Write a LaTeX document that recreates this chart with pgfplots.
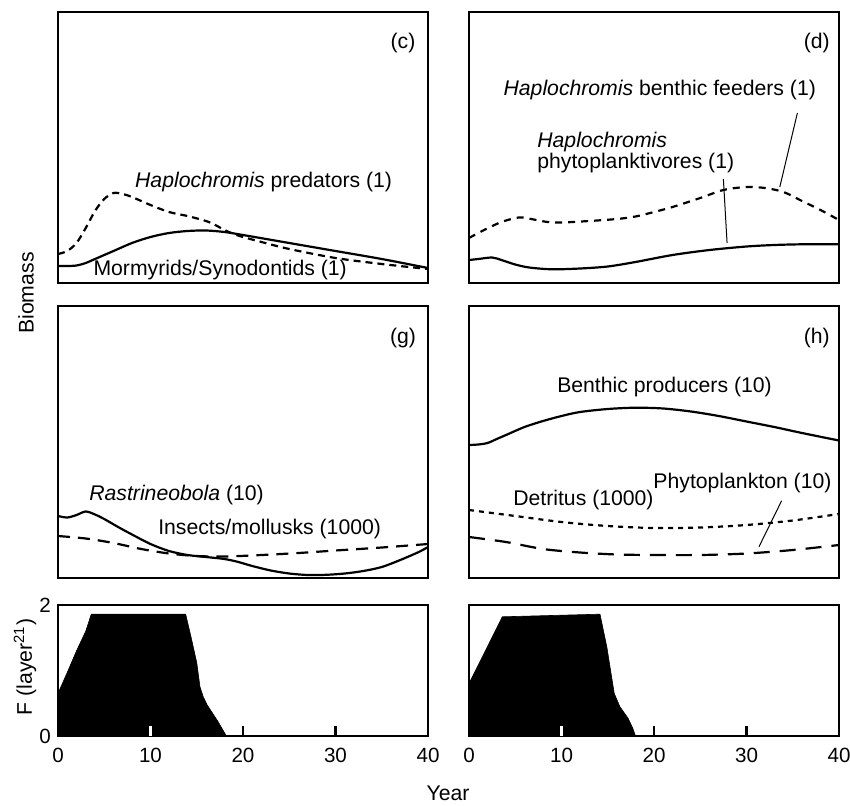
\documentclass[border=0pt]{standalone}
\usepackage{fontspec}
\setmainfont{Liberation Sans}
\usepackage{pgfplots}
\pgfplotsset{compat=1.18}
\tikzset{
  lab/.style={anchor=west, inner sep=0pt, font=\fontsize{10.6pt}{11pt}\selectfont},
  tl/.style={font=\fontsize{10.6pt}{11pt}\selectfont},
}
\pgfplotsset{
  panel/.style={scale only axis, width=185pt, xmin=0, xmax=40,
    axis line style={line width=1.2pt}, anchor=south west, clip=true},
  bio/.style={panel, ticks=none, ymin=0},
  fpanel/.style={panel, height=65.5pt, ymin=0, ymax=2, axis on top,
    xtick={0,20,30,40}, extra x ticks={10},
    extra x tick style={major tick style={white, line width=1.2pt}},
    xtick pos=bottom, ytick pos=left, tick align=inside,
    major tick length=5pt, tick style={line width=1.2pt, black},
    /pgf/number format/assume math mode=true,
    tick label style={font=\fontsize{10.3pt}{12pt}\selectfont},
    xticklabel style={yshift=-2.7pt}},
}
\begin{document}
\begin{tikzpicture}
\path[use as bounding box] (0,0) rectangle (425pt,402.5pt);

% (c)
\begin{axis}[bio, height=135.5pt, ymax=271, at={(29pt,261pt)}]
\addplot[black, line width=1.1pt, smooth, tension=0.5] coordinates {
(0,17)(1,17)(2,17.5)(3,20)(4,24)(6,32)(8,40)(10,46)(12,50)(14,52)(16,52.5)(18,51)(20,48)(25,40)(30,32)(35,24)(40,15)};
\addplot[black, line width=1.1pt, smooth, tension=0.5, dash pattern=on 3.5pt off 2.5pt] coordinates {
(0,29)(1,32)(2,40)(3,55)(4,72)(5,84)(6,90)(7,89)(8,86)(10,78)(12,71)(14,67)(16,62)(17,58)(18,53)(19,49)(20,46)(22,41)(25,34)(30,25)(35,19)(40,14)};
\node[tl] at (axis cs:37.3,240) {(c)};
\node[lab] at (axis cs:8.3,101) {\textit{Haplochromis} predators (1)};
\node[lab] at (axis cs:3.8,13) {Mormyrids/Synodontids (1)};
\end{axis}

% (d)
\begin{axis}[bio, height=135.5pt, ymax=271, at={(234.5pt,261pt)}]
\addplot[black, line width=1.1pt, smooth, tension=0.5] coordinates {
(0,23)(1,24)(2.5,25.5)(3.5,23)(5,18.5)(6.5,15.5)(9,13.7)(12,14.5)(15,16.5)(18,21)(22,28)(26,33)(30,36.5)(33,38)(36,38.7)(40,38.7)};
\addplot[black, line width=1.1pt, smooth, tension=0.5, dash pattern=on 3.5pt off 3pt] coordinates {
(0,45)(1,50)(2.3,56)(3.5,61)(5,65)(5.8,65.5)(7,63.5)(8.5,61)(10,60.5)(13,62)(16,64)(18,66.5)(20,71)(22,76)(25,85)(27.5,93)(30,96)(32,95)(34,91)(36,82)(38,73)(40,63)};
\node[tl] at (axis cs:37.6,240) {(d)};
\node[lab] at (axis cs:3.7,193) {\textit{Haplochromis} benthic feeders (1)};
\node[lab] at (axis cs:7.35,141) {\textit{Haplochromis}};
\node[lab] at (axis cs:7.35,120) {phytoplanktivores (1)};
\draw[line width=0.5pt] (axis cs:35.5,170) -- (axis cs:33.6,96);
\draw[line width=0.5pt] (axis cs:27.5,104) -- (axis cs:27.9,40);
\end{axis}

% (g)
\begin{axis}[bio, height=136pt, ymax=272, at={(29pt,113.5pt)}]
\addplot[black, line width=1.1pt, smooth, tension=0.5] coordinates {
(0,62)(1,60.5)(2,63)(3,66.5)(4,63.5)(5,59)(6.5,51)(8,43.5)(10,34)(12,27)(14,23)(16,21)(18,19)(19.5,16)(21,12)(23,7.5)(25,4.5)(27,3)(29,3.2)(31,4.5)(33,7)(35,11)(37,18)(39,26)(40,31)};
\addplot[black, line width=1.1pt, smooth, tension=0.5, dash pattern=on 6pt off 4pt] coordinates {
(0,42)(3,39.5)(6,35)(9,29)(12,24.5)(15,22)(18,21.5)(22,23)(26,25)(30,27.5)(35,30.5)(40,34)};
\node[tl] at (axis cs:37.3,240) {(g)};
\node[lab] at (axis cs:3.35,83) {\textit{Rastrineobola} (10)};
\node[lab] at (axis cs:10.8,49) {Insects/mollusks (1000)};
\end{axis}

% (h)
\begin{axis}[bio, height=136pt, ymax=272, at={(234.5pt,113.5pt)}]
\addplot[black, line width=1.1pt, smooth, tension=0.5] coordinates {
(0,133)(1,133.5)(2,135)(3,139)(4,143)(6,151)(8,157)(10,162)(12,166)(15,169)(18,170.3)(21,169.5)(24,166.5)(27,162)(30,156.5)(33,151)(36,145)(40,137.5)};
\addplot[black, line width=1.1pt, smooth, tension=0.5, dash pattern=on 2.5pt off 2.5pt] coordinates {
(0,68)(5,62)(10,56)(15,52)(20,50)(25,50.5)(30,53)(35,57.5)(40,64)};
\addplot[black, line width=1.1pt, smooth, tension=0.5, dash pattern=on 8pt off 5pt] coordinates {
(0,41)(4,36)(8,29)(12,25.5)(16,23.5)(20,23)(25,23)(30,24.5)(35,28)(40,33)};
\node[tl] at (axis cs:37.6,240) {(h)};
\node[lab] at (axis cs:9.5,191) {Benthic producers (10)};
\node[lab] at (axis cs:4.75,78) {Detritus (1000)};
\node[lab] at (axis cs:19.9,95) {Phytoplankton (10)};
\draw[line width=0.5pt] (axis cs:33.8,77.3) -- (axis cs:31.35,31.3);
\end{axis}

% F left
\begin{axis}[fpanel, at={(29pt,34.5pt)}, ytick={0,2}]
\addplot[fill=black, draw=black, line width=0.3pt] coordinates {
(0,0)(0,0.65)(1,0.97)(2,1.3)(3,1.6)(3.6,1.86)(13.8,1.86)(14.4,1.5)(15,1.12)(15.35,0.75)(15.7,0.6)(16.1,0.48)(16.7,0.35)(17.3,0.22)(18.2,0)} --cycle;
\end{axis}

% F right
\begin{axis}[fpanel, at={(234.5pt,34.5pt)}, ytick={0,2}, yticklabels={}]
\addplot[fill=black, draw=black, line width=0.3pt] coordinates {
(0,0)(0,0.8)(3.6,1.82)(14.16,1.86)(14.9,1.36)(15.7,0.65)(16.3,0.45)(17.2,0.27)(17.7,0.12)(18,0)} --cycle;
\end{axis}

\node[rotate=90, tl] at (13pt,256pt) {Biomass};
\node[rotate=90, tl] at (12.5pt,69pt) {F (layer\textsuperscript{21})};
\node[tl] at (224pt,6pt) {Year};
\end{tikzpicture}
\end{document}
